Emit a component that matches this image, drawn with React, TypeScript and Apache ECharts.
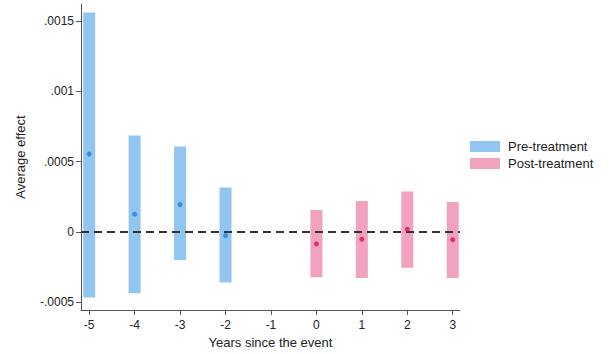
import React, { useEffect, useRef } from "react";
import * as echarts from "echarts";

const preYears = [-5, -4, -3, -2];
const preEst = [0.000553, 0.000126, 0.000194, -0.000026];
const preLow = [-0.000467, -0.000436, -0.000199, -0.00036];
const preHigh = [0.00156, 0.000685, 0.000607, 0.000315];

const postYears = [0, 1, 2, 3];
const postEst = [-0.000085, -0.000052, 0.000019, -0.000055];
const postLow = [-0.000322, -0.000327, -0.000254, -0.000327];
const postHigh = [0.000156, 0.00022, 0.000287, 0.000213];

const xTicks = [-5, -4, -3, -2, -1, 0, 1, 2, 3];
const yTicks = [-0.0005, 0, 0.0005, 0.001, 0.0015];
const yTickLabels = ["-.0005", "0", ".0005", ".001", ".0015"];

const BLUE_FILL = "#92c5f0";
const BLUE_DOT = "#1f7fe0";
const PINK_FILL = "#f0a2bf";
const PINK_DOT = "#d9165c";
const FONT = "Liberation Sans, Arial, sans-serif";

function rangeSeries(name: string, xs: number[], lo: number[], hi: number[], color: string) {
  return {
    name,
    type: "custom",
    itemStyle: { color },
    data: xs.map((x, i) => [x, lo[i], hi[i]]),
    encode: { x: 0, y: [1, 2] },
    renderItem: (params: any, api: any) => {
      const x = api.value(0);
      const p1 = api.coord([x, api.value(1)]);
      const p2 = api.coord([x, api.value(2)]);
      const w = 12;
      return {
        type: "rect",
        shape: { x: p1[0] - w / 2, y: p2[1], width: w, height: p1[1] - p2[1] },
        style: { fill: color },
      };
    },
    z: 2,
  };
}

export default function App() {
  const ref = useRef<HTMLDivElement>(null);
  useEffect(() => {
    const chart = echarts.init(ref.current!, null, { renderer: "svg" });
    chart.setOption({
      animation: false,
      backgroundColor: "#ffffff",
      textStyle: { fontFamily: FONT },
      grid: { left: 81, right: 154, top: 4, bottom: 44 },
      legend: {
        orient: "vertical",
        left: 470,
        top: 140,
        padding: 0,
        itemWidth: 30,
        itemHeight: 11,
        itemGap: 4,
        icon: "rect",
        textStyle: { fontSize: 13, color: "#222", fontFamily: FONT, padding: [0, 0, 0, 3] },
        data: ["Pre-treatment", "Post-treatment"],
      },
      xAxis: {
        type: "value",
        min: -5.18,
        max: 3.16,
        name: "Years since the event",
        nameLocation: "middle",
        nameGap: 26,
        nameTextStyle: { fontSize: 13, color: "#222", fontFamily: FONT },
        axisLine: { show: true, onZero: false, lineStyle: { color: "#555", width: 1 } },
        axisTick: { show: true, length: 5, customValues: xTicks, lineStyle: { color: "#555" } },
        axisLabel: {
          customValues: xTicks,
          fontSize: 12,
          color: "#222",
          margin: 9,
          fontFamily: FONT,
        },
        splitLine: { show: false },
      },
      yAxis: {
        type: "value",
        min: -0.000555,
        max: 0.00162,
        name: "Average effect",
        nameLocation: "middle",
        nameGap: 54,
        nameTextStyle: { fontSize: 13, color: "#222", fontFamily: FONT },
        axisLine: { show: true, onZero: false, lineStyle: { color: "#555", width: 1 } },
        axisTick: { show: true, length: 5, customValues: yTicks, lineStyle: { color: "#555" } },
        axisLabel: {
          customValues: yTicks,
          fontSize: 12,
          color: "#222",
          margin: 7,
          fontFamily: FONT,
          formatter: (v: number) => {
            const i = yTicks.findIndex((t) => Math.abs(t - v) < 1e-9);
            return i >= 0 ? yTickLabels[i] : "";
          },
        },
        splitLine: { show: false },
      },
      series: [
        rangeSeries("Pre-treatment", preYears, preLow, preHigh, BLUE_FILL),
        rangeSeries("Post-treatment", postYears, postLow, postHigh, PINK_FILL),
        {
          name: "preEst",
          type: "scatter",
          symbol: "circle",
          symbolSize: 5,
          itemStyle: { color: BLUE_DOT },
          data: preYears.map((x, i) => [x, preEst[i]]),
          z: 5,
        },
        {
          name: "postEst",
          type: "scatter",
          symbol: "circle",
          symbolSize: 5,
          itemStyle: { color: PINK_DOT },
          data: postYears.map((x, i) => [x, postEst[i]]),
          z: 5,
          markLine: {
            silent: true,
            symbol: "none",
            label: { show: false },
            lineStyle: { color: "#333", type: [8, 5], width: 2 },
            data: [{ yAxis: 0 }],
          },
        },
      ],
    });
    return () => chart.dispose();
  }, []);
  return <div ref={ref} style={{ width: 614, height: 354, position: "absolute", left: 0, top: 0 }} />;
}
